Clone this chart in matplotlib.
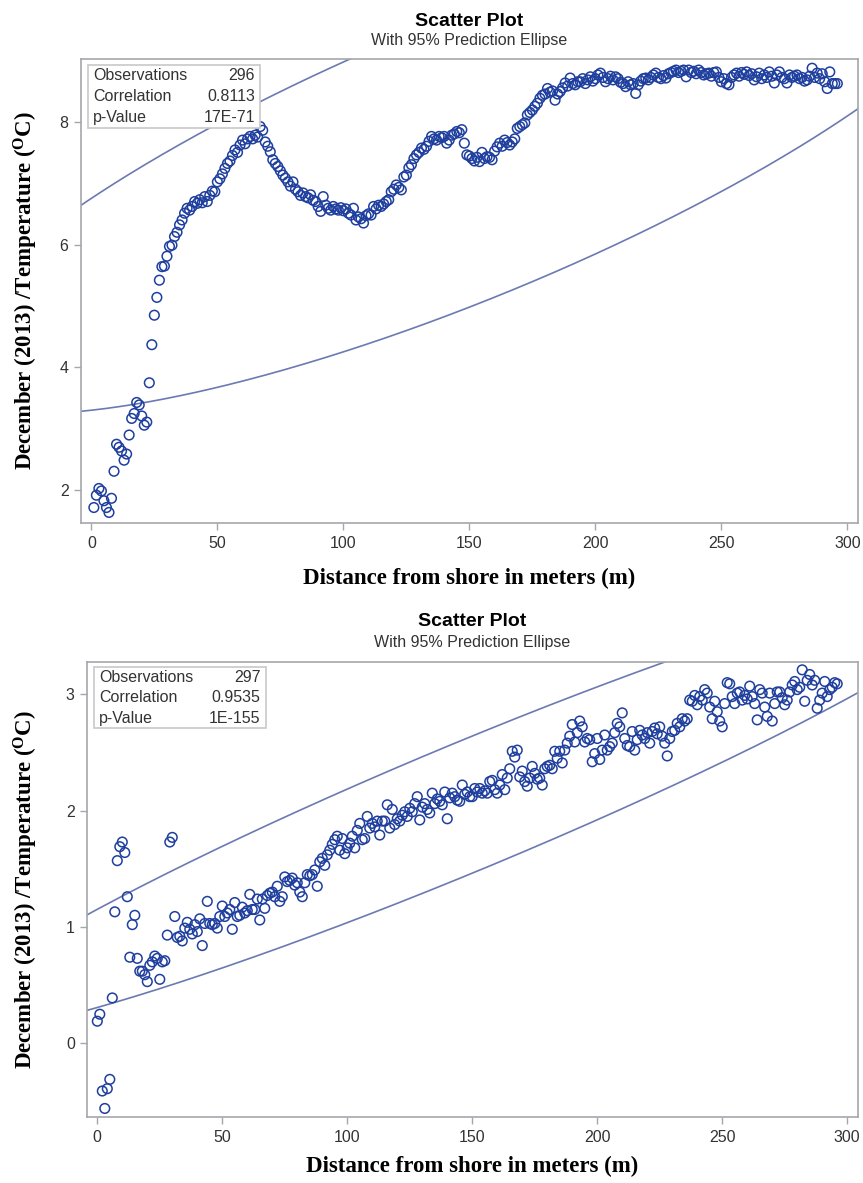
import numpy as np
import matplotlib
matplotlib.use("Agg")
import matplotlib.pyplot as plt
from matplotlib.patches import Rectangle

# ---------------- data ----------------
# top panel: distance 1..296 m
dist_top = np.arange(1, 297)
temp_top = [
    1.72, 1.92, 2.03, 1.99, 1.83, 1.72, 1.64, 1.87, 2.31, 2.75,
    2.70, 2.64, 2.49, 2.59, 2.90, 3.17, 3.25, 3.43, 3.39, 3.21,
    3.06, 3.11, 3.75, 4.37, 4.85, 5.14, 5.42, 5.64, 5.65, 5.81,
    5.97, 5.99, 6.13, 6.20, 6.32, 6.40, 6.51, 6.59, 6.56, 6.62,
    6.70, 6.67, 6.73, 6.68, 6.78, 6.70, 6.80, 6.87, 6.86, 7.02,
    7.07, 7.15, 7.24, 7.32, 7.36, 7.45, 7.54, 7.50, 7.62, 7.70,
    7.64, 7.72, 7.76, 7.72, 7.78, 7.75, 7.92, 7.86, 7.67, 7.60,
    7.51, 7.38, 7.32, 7.27, 7.20, 7.13, 7.08, 7.02, 6.95, 7.02,
    6.90, 6.86, 6.80, 6.84, 6.78, 6.76, 6.81, 6.72, 6.70, 6.62,
    6.54, 6.78, 6.64, 6.59, 6.56, 6.62, 6.58, 6.56, 6.60, 6.55,
    6.58, 6.51, 6.48, 6.59, 6.40, 6.45, 6.42, 6.35, 6.47, 6.50,
    6.48, 6.62, 6.58, 6.64, 6.62, 6.66, 6.70, 6.73, 6.86, 6.90,
    6.97, 6.93, 6.89, 7.10, 7.13, 7.25, 7.30, 7.40, 7.46, 7.50,
    7.57, 7.55, 7.60, 7.68, 7.76, 7.72, 7.70, 7.76, 7.74, 7.76,
    7.65, 7.70, 7.78, 7.80, 7.84, 7.82, 7.87, 7.65, 7.46, 7.44,
    7.40, 7.36, 7.42, 7.35, 7.50, 7.40, 7.43, 7.42, 7.38, 7.52,
    7.59, 7.65, 7.60, 7.70, 7.66, 7.62, 7.67, 7.72, 7.89, 7.92,
    7.95, 7.98, 8.11, 8.15, 8.19, 8.25, 8.30, 8.38, 8.43, 8.45,
    8.54, 8.48, 8.50, 8.35, 8.45, 8.49, 8.55, 8.63, 8.58, 8.71,
    8.62, 8.60, 8.65, 8.65, 8.70, 8.62, 8.68, 8.73, 8.66, 8.70,
    8.76, 8.79, 8.72, 8.65, 8.70, 8.74, 8.68, 8.73, 8.70, 8.64,
    8.62, 8.57, 8.65, 8.60, 8.62, 8.46, 8.60, 8.66, 8.70, 8.71,
    8.68, 8.72, 8.76, 8.79, 8.72, 8.70, 8.75, 8.71, 8.78, 8.80,
    8.82, 8.84, 8.80, 8.82, 8.84, 8.73, 8.84, 8.80, 8.82, 8.78,
    8.84, 8.80, 8.76, 8.78, 8.79, 8.74, 8.80, 8.81, 8.72, 8.65,
    8.70, 8.62, 8.60, 8.72, 8.76, 8.79, 8.74, 8.80, 8.77, 8.81,
    8.75, 8.78, 8.68, 8.73, 8.79, 8.70, 8.76, 8.72, 8.81, 8.74,
    8.63, 8.76, 8.81, 8.72, 8.70, 8.63, 8.76, 8.72, 8.74, 8.76,
    8.70, 8.72, 8.66, 8.68, 8.74, 8.87, 8.72, 8.79, 8.70, 8.78,
    8.65, 8.54, 8.81, 8.62, 8.62, 8.62,
]

# bottom panel: distance 0..296 m
dist_bot = np.arange(0, 297)
temp_bot = [
    0.19, 0.25, -0.41, -0.56, -0.39, -0.31, 0.39, 1.13, 1.57, 1.69,
    1.73, 1.64, 1.26, 0.74, 1.02, 1.10, 0.73, 0.62, 0.62, 0.59,
    0.53, 0.67, 0.70, 0.75, 0.73, 0.55, 0.70, 0.71, 0.93, 1.73,
    1.77, 1.09, 0.91, 0.92, 0.88, 0.99, 1.04, 0.98, 0.94, 1.02,
    0.96, 1.07, 0.84, 1.03, 1.22, 1.03, 1.02, 1.03, 0.99, 1.09,
    1.18, 1.09, 1.12, 1.15, 0.98, 1.21, 1.09, 1.10, 1.17, 1.12,
    1.14, 1.28, 1.15, 1.15, 1.24, 1.06, 1.24, 1.16, 1.27, 1.29,
    1.30, 1.26, 1.35, 1.22, 1.26, 1.43, 1.39, 1.40, 1.42, 1.36,
    1.38, 1.30, 1.26, 1.38, 1.45, 1.44, 1.45, 1.49, 1.35, 1.56,
    1.59, 1.53, 1.62, 1.66, 1.71, 1.75, 1.78, 1.66, 1.76, 1.63,
    1.68, 1.72, 1.78, 1.68, 1.83, 1.89, 1.75, 1.76, 1.95, 1.85,
    1.89, 1.86, 1.91, 1.79, 1.91, 1.91, 2.05, 1.85, 2.01, 1.88,
    1.93, 1.91, 1.96, 1.99, 1.95, 2.02, 1.99, 2.06, 2.12, 1.92,
    2.03, 2.06, 2.01, 1.98, 2.15, 2.06, 2.10, 2.08, 2.05, 2.16,
    1.93, 2.11, 2.15, 2.12, 2.09, 2.08, 2.22, 2.14, 2.16, 2.12,
    2.12, 2.19, 2.16, 2.19, 2.15, 2.17, 2.15, 2.25, 2.26, 2.18,
    2.15, 2.22, 2.31, 2.18, 2.28, 2.36, 2.51, 2.46, 2.52, 2.29,
    2.34, 2.25, 2.21, 2.28, 2.38, 2.32, 2.27, 2.28, 2.22, 2.36,
    2.38, 2.39, 2.36, 2.51, 2.45, 2.51, 2.41, 2.52, 2.58, 2.64,
    2.74, 2.59, 2.67, 2.77, 2.72, 2.59, 2.62, 2.61, 2.42, 2.49,
    2.62, 2.44, 2.52, 2.65, 2.52, 2.55, 2.58, 2.67, 2.75, 2.72,
    2.84, 2.62, 2.56, 2.55, 2.68, 2.52, 2.61, 2.69, 2.65, 2.62,
    2.67, 2.58, 2.68, 2.71, 2.66, 2.72, 2.64, 2.58, 2.47, 2.62,
    2.68, 2.69, 2.75, 2.72, 2.79, 2.77, 2.79, 2.95, 2.94, 2.99,
    2.91, 2.98, 2.95, 3.04, 3.01, 2.89, 2.79, 2.94, 2.85, 2.77,
    2.72, 2.92, 3.10, 3.09, 2.98, 2.92, 3.01, 3.02, 2.95, 2.99,
    2.96, 3.07, 2.98, 2.92, 2.78, 3.04, 3.01, 2.89, 2.81, 3.01,
    2.77, 2.92, 3.02, 3.02, 2.97, 2.91, 2.95, 3.02, 3.08, 3.11,
    3.04, 3.06, 3.21, 2.94, 3.12, 3.17, 3.08, 3.12, 2.88, 2.95,
    3.01, 3.11, 2.98, 3.04, 3.06, 3.10, 3.09,
]

stat_labels = ["Observations", "Correlation", "p-Value"]
stats_top = ["296", "0.8113", "17E-71"]
stats_bot = ["297", "0.9535", "1E-155"]

xticks = [0, 50, 100, 150, 200, 250, 300]
yticks_top = [2, 4, 6, 8]
yticks_bot = [0, 1, 2, 3]

title = "Scatter Plot"
subtitle = "With 95% Prediction Ellipse"
xlabel = "Distance from shore in meters (m)"
ylabel = r"December (2013) /Temperature ($^{\rm O}$C)"

# ---------------- style ----------------
plt.rcParams["font.family"] = ["Liberation Sans", "DejaVu Sans"]
plt.rcParams["mathtext.fontset"] = "custom"
plt.rcParams["mathtext.rm"] = "Liberation Serif:bold"
plt.rcParams["mathtext.it"] = "Liberation Serif:bold"
plt.rcParams["mathtext.bf"] = "Liberation Serif:bold"

MARKER = "#1F3F9E"
ELL = "#6B7AB2"
SPINE = "#A4A7AB"
TXT = "#333333"

W, H = 863, 1183
fig = plt.figure(figsize=(W / 100, H / 100), dpi=100)


def pred_ellipse(x, y, alpha=0.05, npts=1441):
    x = np.asarray(x, float)
    y = np.asarray(y, float)
    n = len(x)
    d = n - 2
    F = (d / 2.0) * (alpha ** (-2.0 / d) - 1.0)
    c2 = 2.0 * (n + 1) * (n - 1) / (n * (n - 2)) * F
    cov = np.cov(x, y)
    L = np.linalg.cholesky(cov)
    t = np.linspace(0, 2 * np.pi, npts)
    circ = np.vstack([np.cos(t), np.sin(t)]) * np.sqrt(c2)
    pts = L @ circ
    return pts[0] + x.mean(), pts[1] + y.mean()


def panel(px_l, px_t, px_r, px_b, xs, ys, xlim, ylim, yticks, stats,
          box, title_y, sub_y, xlab_y, ylab_x):
    ax = fig.add_axes([px_l / W, 1 - px_b / H, (px_r - px_l) / W, (px_b - px_t) / H])
    ex, ey = pred_ellipse(xs, ys)
    ax.plot(ex, ey, color=ELL, lw=1.2, zorder=2)
    ax.scatter(xs, ys, s=48, facecolors="none", edgecolors=MARKER,
               linewidths=1.1, zorder=3)
    ax.set_xlim(*xlim)
    ax.set_ylim(*ylim)
    ax.set_xticks(xticks)
    ax.set_yticks(yticks)
    ax.tick_params(direction="out", length=5, width=1.0, color=SPINE,
                   labelsize=11.5, labelcolor=TXT, pad=4)
    for s in ax.spines.values():
        s.set_color(SPINE)
        s.set_linewidth(1.2)
    # statistics box
    bx0, by0, bx1, by1 = box  # pixels
    axw = px_r - px_l
    axh = px_b - px_t
    fx = lambda p: (p - px_l) / axw
    fy = lambda p: 1 - (p - px_t) / axh
    ax.add_patch(Rectangle((fx(bx0), fy(by1)), fx(bx1) - fx(bx0), fy(by0) - fy(by1),
                           transform=ax.transAxes, facecolor="white",
                           edgecolor="#C8C8C8", lw=1.2, zorder=4))
    row_h = (by1 - by0) / 3.0
    for i, (lab, val) in enumerate(zip(stat_labels, stats)):
        yc = by0 + row_h * (i + 0.5)
        ax.text(fx(bx0 + 5), fy(yc), lab, transform=ax.transAxes, ha="left",
                va="center", fontsize=11.5, color=TXT, zorder=5)
        ax.text(fx(bx1 - 5), fy(yc), val, transform=ax.transAxes, ha="right",
                va="center", fontsize=11.5, color=TXT, zorder=5)
    cx = (px_l + px_r) / 2 / W
    fig.text(cx, 1 - title_y / H, title, ha="center", va="center",
             fontsize=14, fontweight="bold", color="black")
    fig.text(cx, 1 - sub_y / H, subtitle, ha="center", va="center",
             fontsize=11.5, color=TXT)
    fig.text(cx, 1 - xlab_y / H, xlabel, ha="center", va="center",
             fontsize=16.5, fontweight="bold", family="Liberation Serif")
    fig.text(ylab_x / W, 1 - ((px_t + px_b) / 2) / H, ylabel, ha="center",
             va="center", rotation=90, fontsize=16.5, fontweight="bold",
             family="Liberation Serif")
    return ax


panel(81, 59, 858, 523, dist_top, temp_top, (-4.1, 304.2), (1.468, 9.02),
      yticks_top, stats_top, (88, 65, 260, 128), 21, 41, 578, 26)
panel(87.3, 661.7, 857.7, 1117.3, dist_bot, temp_bot, (-4.0, 304.2),
      (-0.636, 3.28), yticks_bot, stats_bot, (94.3, 667.3, 265.7, 728.3),
      622, 643, 1166, 26)

fig.savefig("out.png", dpi=100, facecolor="white")
